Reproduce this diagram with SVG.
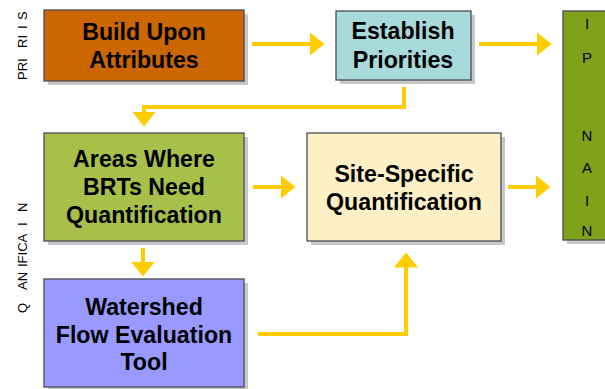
<svg xmlns="http://www.w3.org/2000/svg" width="605" height="389" viewBox="0 0 605 389">
<style>
.box{stroke:#4a4a5a;stroke-width:1.3}
.sh{fill:#9a9a9a;opacity:0.55}
.t{font-family:"Liberation Sans",Arial,sans-serif;font-weight:bold;font-size:23.2px;fill:#000;text-anchor:middle}
.side{font-family:"Liberation Sans",Arial,sans-serif;font-size:13px;fill:#000}
.pl{font-family:"Liberation Sans",Arial,sans-serif;font-size:15px;fill:#000;text-anchor:middle}
.c{fill:none;stroke:#FFCC00;stroke-width:4}
</style>
<defs>
<marker id="ah" markerUnits="userSpaceOnUse" markerWidth="16" markerHeight="24" refX="0.5" refY="12" orient="auto">
<path d="M0,0 L15,12 L0,24 Z" fill="#FFCC00"/>
</marker>
</defs>
<rect width="605" height="389" fill="#fff"/>
<g id="side-labels">
<text class="side" transform="translate(27,0) rotate(-90)"><tspan x="-80">PRI</tspan><tspan x="-48">RI</tspan><tspan x="-29">I</tspan><tspan x="-20">S</tspan></text>
<text class="side" transform="translate(27,0) rotate(-90)"><tspan x="-313">Q</tspan><tspan x="-290">AN</tspan><tspan x="-267">IFICA</tspan><tspan x="-226">I</tspan><tspan x="-212">N</tspan></text>
</g>
<g id="connectors">
<path class="c" d="M252,44 H310" marker-end="url(#ah)"/>
<path class="c" d="M479,44 H537" marker-end="url(#ah)"/>
<path class="c" d="M404,87 V107 H144 V112" marker-end="url(#ah)"/>
<path class="c" d="M253,187 H281" marker-end="url(#ah)"/>
<path class="c" d="M508,187 H536" marker-end="url(#ah)"/>
<path class="c" d="M143,248 V262" marker-end="url(#ah)"/>
<path class="c" d="M258,334 H406 V267" marker-end="url(#ah)"/>
</g>
<g id="build-upon-attributes">
<rect class="sh" x="48" y="14" width="200" height="71"/>
<rect class="box" x="44" y="10" width="200" height="71" fill="#CC6600"/>
<text class="t" x="144" y="40">Build Upon</text>
<text class="t" x="144" y="68">Attributes</text>
</g>
<g id="establish-priorities">
<rect class="sh" x="340" y="15" width="135" height="69"/>
<rect class="box" x="336" y="11" width="135" height="69" fill="#A8D9DB"/>
<text class="t" x="403" y="39">Establish</text>
<text class="t" x="403" y="68">Priorities</text>
</g>
<g id="plan">
<rect class="sh" x="567" y="15" width="45" height="229"/>
<rect class="box" x="563" y="11" width="50" height="229" fill="#80A21B"/>
<text class="pl" x="587" y="29">I</text>
<text class="pl" x="587" y="63">P</text>
<text class="pl" x="587" y="141">N</text>
<text class="pl" x="587" y="173">A</text>
<text class="pl" x="587" y="206">I</text>
<text class="pl" x="587" y="236">N</text>
</g>
<g id="areas-where-brts-need-quantification">
<rect class="sh" x="48" y="137" width="200" height="108"/>
<rect class="box" x="44" y="133" width="200" height="108" fill="#A8C04A"/>
<text class="t" x="144" y="167">Areas Where</text>
<text class="t" x="144" y="195">BRTs Need</text>
<text class="t" x="144" y="223">Quantification</text>
</g>
<g id="site-specific-quantification">
<rect class="sh" x="311" y="137" width="194" height="108"/>
<rect class="box" x="307" y="133" width="194" height="108" fill="#FDF0C6"/>
<text class="t" x="404" y="182">Site-Specific</text>
<text class="t" x="404" y="210">Quantification</text>
</g>
<g id="watershed-flow-evaluation-tool">
<rect class="sh" x="48" y="283" width="200" height="108"/>
<rect class="box" x="44" y="279" width="200" height="108" fill="#9999FF"/>
<text class="t" x="144" y="315">Watershed</text>
<text class="t" x="144" y="343">Flow Evaluation</text>
<text class="t" x="144" y="370">Tool</text>
</g>
</svg>
